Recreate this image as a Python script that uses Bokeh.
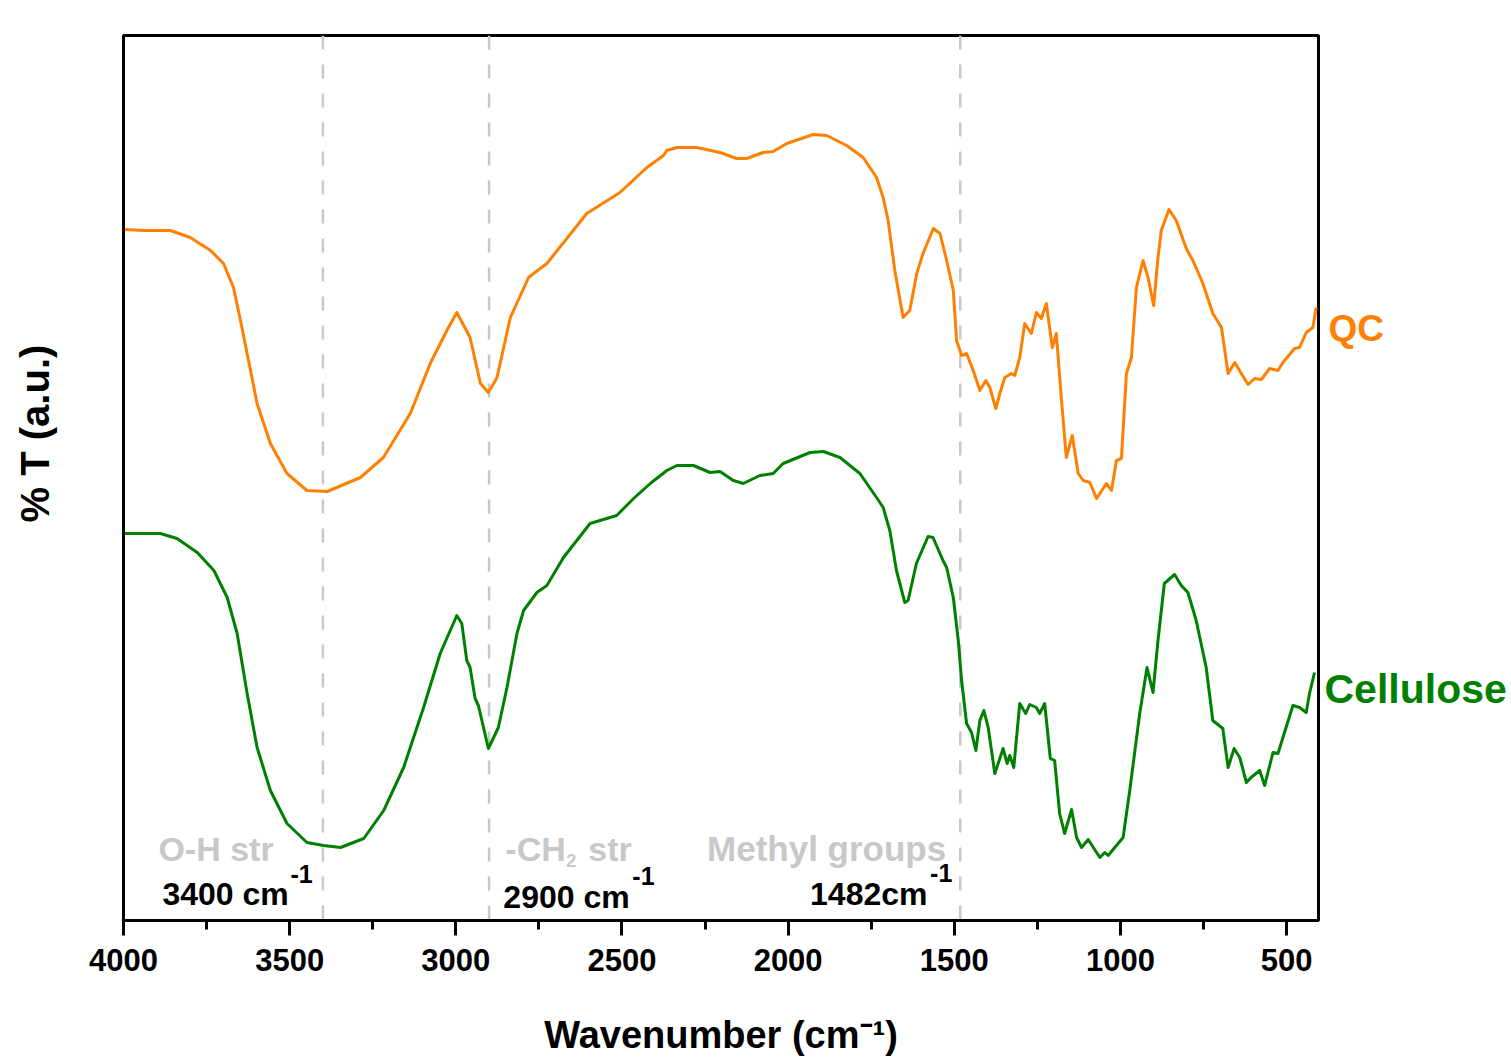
from bokeh.plotting import figure
from bokeh.models import Range1d, FixedTicker, Span, Label, LinearAxis
from bokeh.embed import file_html
from bokeh.resources import INLINE

# ---------------- data ----------------
qc_wn = [3999, 3934, 3859, 3799, 3738, 3699, 3669, 3648, 3628, 3598, 3558, 3508, 3448, 3387,
         3287, 3218, 3137, 3077, 3027, 2997, 2957, 2926, 2902, 2876, 2836, 2781, 2766, 2726,
         2606, 2506, 2425, 2375, 2365, 2335, 2275, 2205, 2155, 2125, 2075, 2045, 2004, 1924,
         1884, 1824, 1774, 1734, 1714, 1699, 1679, 1654, 1634, 1613, 1594, 1563, 1543, 1523,
         1503, 1493, 1478, 1463, 1443, 1423, 1405, 1393, 1375, 1363, 1348, 1328, 1318, 1303,
         1288, 1268, 1253, 1238, 1223, 1205, 1193, 1178, 1163, 1145, 1127, 1112, 1092, 1072,
         1042, 1027, 1012, 997, 982, 967, 952, 932, 917, 900, 887, 877, 854, 832, 802, 782,
         752, 722, 696, 676, 656, 636, 616, 596, 576, 551, 526, 511, 476, 461, 441, 421, 411]
qc_t = [691, 690, 690, 683, 670, 657, 633, 600, 567, 517, 477, 447, 430, 429,
        443, 463, 507, 557, 590, 608, 583, 537, 528, 543, 603, 643, 647, 657,
        707, 728, 753, 765, 770, 773, 773, 768, 762, 762, 768, 769, 777, 786,
        785, 775, 763, 743, 723, 700, 650, 603, 610, 647, 667, 692, 687, 660,
        630, 580, 565, 567, 550, 530, 540, 533, 512, 527, 543, 547, 545, 563,
        597, 587, 608, 602, 617, 573, 587, 523, 463, 485, 447, 440, 438, 422,
        437, 430, 460, 462, 547, 563, 633, 660, 643, 615, 663, 690, 711, 700, 672, 660,
        637, 607, 593, 547, 558, 547, 536, 542, 541, 552, 550, 558, 572, 573, 588, 593, 613]

cel_wn = [3999, 3889, 3839, 3778, 3728, 3688, 3658, 3628, 3598, 3558, 3508, 3448, 3398, 3347,
          3277, 3217, 3157, 3097, 3047, 2997, 2982, 2967, 2957, 2942, 2932, 2902, 2872, 2846,
          2816, 2796, 2756, 2726, 2676, 2596, 2546, 2516, 2465, 2415, 2365, 2335, 2285, 2235,
          2205, 2165, 2135, 2085, 2045, 2015, 1934, 1894, 1844, 1784, 1734, 1714, 1694, 1674,
          1649, 1639, 1614, 1579, 1564, 1534, 1523, 1503, 1488, 1478, 1463, 1448, 1435, 1423,
          1411, 1398, 1378, 1353, 1341, 1333, 1321, 1303, 1285, 1273, 1253, 1243, 1228, 1211,
          1198, 1183, 1168, 1147, 1132, 1117, 1097, 1062, 1047, 1037, 1012, 992, 972, 942,
          920, 902, 887, 868, 837, 817, 797, 772, 742, 722, 692, 676, 658, 641, 621, 607,
          581, 566, 541, 526, 511, 481, 461, 441, 431, 416]
cel_t = [387, 387, 382, 368, 350, 323, 287, 227, 173, 130, 97, 78, 75, 73,
         82, 110, 153, 213, 267, 305, 297, 260, 253, 222, 215, 172, 193, 233,
         287, 310, 328, 335, 363, 397, 402, 405, 422, 437, 450, 455, 455, 448,
         449, 440, 437, 445, 447, 457, 468, 469, 463, 447, 423, 413, 390, 350,
         318, 320, 357, 384, 383, 360, 353, 323, 280, 240, 197, 188, 170, 200,
         210, 193, 147, 172, 157, 165, 153, 217, 207, 216, 213, 207, 217, 162,
         160, 107, 87, 111, 83, 73, 81, 63, 68, 65, 75, 83, 130, 207,
         253, 228, 280, 337, 346, 335, 328, 300, 253, 200, 192, 153, 172, 163, 138, 143,
         150, 135, 168, 167, 183, 215, 213, 208, 227, 248]

x_ticks = [4000, 3500, 3000, 2500, 2000, 1500, 1000, 500]
x_minor = [3750, 3250, 2750, 2250, 1750, 1250, 750]
band_positions = [3400, 2900, 1482]
series_names = ["QC", "Cellulose"]

FONT = "Liberation Sans"
QC_COLOR = "#FF8000"
CEL_COLOR = "#008000"
GRAY = "#c8c8c8"
NBSP = "\u00a0"

p = figure(width=1509, height=1059, output_backend="svg", toolbar_location=None,
           x_range=Range1d(4000, 404), y_range=Range1d(0, 885),
           min_border_left=123, min_border_right=190, min_border_top=35, min_border_bottom=139)
p.background_fill_color = "white"
p.border_fill_color = "white"
p.grid.visible = False
p.outline_line_color = "black"
p.outline_line_width = 3

# x axis
xa = p.xaxis[0]
xa.ticker = FixedTicker(ticks=x_ticks, minor_ticks=x_minor)
xa.axis_line_width = 3
xa.major_tick_line_width = 3
xa.minor_tick_line_width = 3
xa.major_tick_in = 0
xa.major_tick_out = 15
xa.minor_tick_in = 0
xa.minor_tick_out = 9
xa.major_label_standoff = 13
xa.major_label_text_font = FONT
xa.major_label_text_font_style = "bold"
xa.major_label_text_font_size = "31px"
xa.major_label_text_color = "black"
xa.axis_label = "Wavenumber (cm\u207b\u00b9)"
xa.axis_label_text_font = FONT
xa.axis_label_text_font_style = "bold"
xa.axis_label_text_font_size = "38px"
xa.axis_label_text_color = "black"
xa.axis_label_standoff = 40

# y axis: no ticks, title sits above centre as in the reference
ya = p.yaxis[0]
ya.axis_line_width = 3
ya.major_tick_line_color = None
ya.minor_tick_line_color = None
ya.major_tick_out = 0
ya.major_label_text_font_size = "0px"
ya.axis_label = NBSP * 8 + "% T (a.u.)"
ya.axis_label_text_font = FONT
ya.axis_label_text_font_style = "bold"
ya.axis_label_text_font_size = "40px"
ya.axis_label_text_color = "black"
ya.axis_label_standoff = 63

# series names at the right edge, each as a tick label of its own right axis
def name_axis(y, name, color, size, standoff):
    ax = LinearAxis(ticker=FixedTicker(ticks=[y]), major_label_overrides={y: name})
    ax.axis_line_color = None
    ax.major_tick_line_color = None
    ax.minor_tick_line_color = None
    ax.major_tick_out = 0
    ax.major_tick_in = 0
    ax.major_label_standoff = standoff
    ax.major_label_text_font = FONT
    ax.major_label_text_font_style = "bold"
    ax.major_label_text_font_size = size
    ax.major_label_text_color = color
    p.add_layout(ax, "right")

name_axis(592, series_names[0], QC_COLOR, "37px", 10)
name_axis(232, series_names[1], CEL_COLOR, "41px", -63)

# dashed band markers
for loc in band_positions:
    p.add_layout(Span(location=loc, dimension="height", line_color=GRAY,
                      line_dash="14 15", line_width=2.5, level="underlay"))

p.line(qc_wn, qc_t, line_color=QC_COLOR, line_width=3, line_join="round")
p.line(cel_wn, cel_t, line_color=CEL_COLOR, line_width=3, line_join="round")

def lab(x, y, txt, size, color, xo=0, yo=0):
    p.add_layout(Label(x=x, y=y, text=txt, x_offset=xo, y_offset=yo,
                       text_font=FONT, text_font_style="bold",
                       text_font_size=size, text_color=color,
                       text_baseline="alphabetic", text_align="left", level="overlay"))

# band annotations
lab(3895, 72, "O-H str", "34px", GRAY)
lab(3883, 27, "3400 cm", "32px", "black")
lab(3883, 27, "-1", "25px", "black", xo=128, yo=20)

lab(2851, 72, "-CH", "34px", GRAY)
lab(2851, 72, "2", "18px", GRAY, xo=61, yo=-12)
lab(2851, 72, "str", "34px", GRAY, xo=83)
lab(2857, 24, "2900 cm", "32px", "black")
lab(2857, 24, "-1", "25px", "black", xo=129, yo=21)

lab(2244, 72, "Methyl groups", "35px", GRAY)
lab(1934, 27, "1482cm", "32px", "black")
lab(1934, 27, "-1", "25px", "black", xo=120, yo=21)

open("out.html", "w").write(file_html(p, INLINE))
